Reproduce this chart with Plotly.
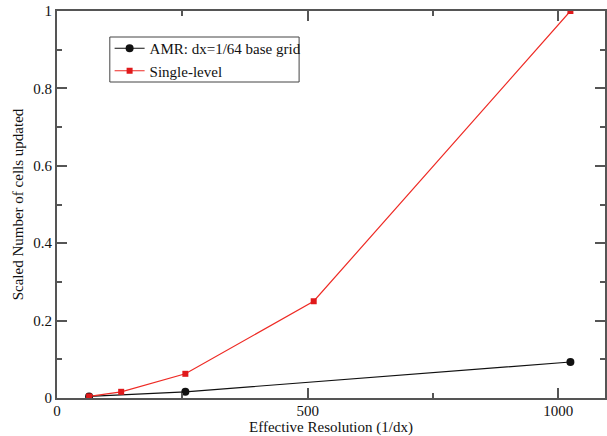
import plotly.graph_objects as go

amr_x = [64, 256, 1024]
amr_y = [0.004, 0.016, 0.093]
single_x = [64, 128, 256, 512, 1024]
single_y = [0.004, 0.016, 0.0625, 0.25, 1.0]

FONT = "Liberation Serif"
AX = "#555555"

fig = go.Figure()
fig.add_trace(go.Scatter(x=amr_x, y=amr_y, mode="lines+markers",
                         name="AMR: dx=1/64 base grid",
                         line=dict(color="#111111", width=1.2),
                         marker=dict(symbol="circle", size=8, color="#111111")))
fig.add_trace(go.Scatter(x=single_x, y=single_y, mode="lines+markers",
                         name="Single-level",
                         line=dict(color="#ee2a24", width=1.2),
                         marker=dict(symbol="square", size=6, color="#e0191b")))

axis_common = dict(showgrid=False, zeroline=False, showline=True, linecolor=AX,
                   linewidth=2, mirror="allticks", ticks="inside", tickcolor=AX,
                   tickwidth=1.5, ticklen=10,
                   tickfont=dict(family=FONT, size=15, color="#111111"))

fig.update_xaxes(range=[0, 1093], dtick=500, tick0=0,
                 minor=dict(ticks="inside", dtick=250, ticklen=5, tickcolor=AX, tickwidth=1.5),
                 ticklabelstandoff=-2,
                 title=dict(text="Effective Resolution (1/dx)", font=dict(family=FONT, size=15, color="#111111"), standoff=2),
                 **axis_common)
fig.update_yaxes(range=[0, 1], dtick=0.2, tick0=0,
                 minor=dict(ticks="inside", dtick=0.1, ticklen=5, tickcolor=AX, tickwidth=1.5),
                 tickformat="~g",
                 title=dict(text="Scaled Number of cells updated", font=dict(family=FONT, size=15, color="#111111"), standoff=6),
                 **axis_common)

# legend frame
fig.add_shape(type="rect", xref="paper", yref="paper",
              x0=0.0964, x1=0.4418, y0=0.8165, y1=0.9328,
              line=dict(color="#444444", width=1), fillcolor="white", layer="below")

fig.update_layout(
    width=607, height=436,
    margin=dict(l=57, r=0, t=11, b=38),
    paper_bgcolor="white", plot_bgcolor="white",
    font=dict(family=FONT, size=15, color="#111111"),
    legend=dict(x=0.096, y=0.9457, xanchor="left", yanchor="top",
                borderwidth=0, bgcolor="rgba(0,0,0,0)",
                font=dict(family=FONT, size=15, color="#111111"),
                tracegroupgap=0, itemwidth=30),
    showlegend=True,
)

fig.write_html("out.html")
